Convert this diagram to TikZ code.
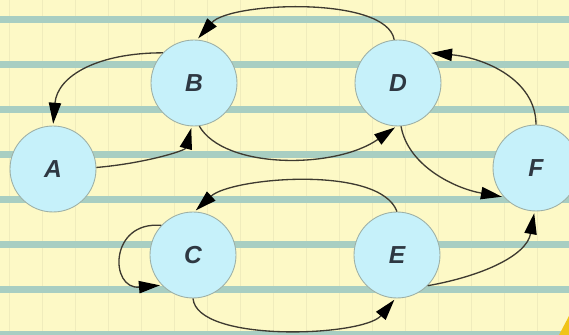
\documentclass[tikz,border=0pt]{standalone}
\usepackage{fontspec}
\setmainfont{Liberation Sans}
\usepackage{tikz}
\usetikzlibrary{arrows.meta}

\definecolor{giay}{HTML}{FDF9C6}
\definecolor{soc}{HTML}{A8CEC2}
\definecolor{ke}{HTML}{F0ECBC}
\definecolor{nen}{HTML}{C6F1FA}
\definecolor{vien}{HTML}{9DB0A6}
\definecolor{chu}{HTML}{2E3842}
\definecolor{net}{HTML}{3E3A30}
\definecolor{gocvang}{HTML}{F0C418}

\begin{document}
\begin{tikzpicture}[x=0.02cm, y=0.02cm, >={Triangle[length=12pt,width=7pt,color=black]},
    dinh/.style={circle, draw=vien, line width=0.5pt, fill=nen, minimum size=1.72cm,
        inner sep=0pt, text=chu, font=\fontsize{14}{16}\selectfont\bfseries\itshape},
    cung/.style={->, draw=net, line width=0.75pt, shorten >=1pt}]
    % Nền giấy kẻ
    \clip (0,0) rectangle (569,335);
    \fill[giay] (0,0) rectangle (569,335);
    \foreach \x in {9,42,...,569}
        \draw[ke, line width=0.4pt] (\x,0) -- (\x,335);
    \foreach \k in {0,...,7}
        \draw[soc, line width=0.14cm] (0,{315-44.9*\k}) -- (569,{315-44.9*\k});
    \fill[gocvang] (559,0) -- (569,0) -- (569,19) -- cycle;
    % Các đỉnh
    \node[dinh] (A) at (53,166) {A};
    \node[dinh] (B) at (194,252) {B};
    \node[dinh] (D) at (398,252) {D};
    \node[dinh] (F) at (536,167) {F};
    \node[dinh] (C) at (193,80) {C};
    \node[dinh] (E) at (397,80) {E};
    % Các cung
    \draw[cung] (D.95) to[out=100, in=49, out distance=0.9cm, in distance=1cm] (B.86);
    \draw[cung] (B.136) to[out=180, in=85, out distance=1.3cm, in distance=1cm] (A.90);
    \draw[cung] (A.2) to[out=5, in=255, out distance=1cm, in distance=0.5cm] (B.267);
    \draw[cung] (B.277) to[out=-60, in=215, out distance=1cm, in distance=1.5cm] (D.268);
    \draw[cung] (F.90) to[out=90, in=-5, out distance=0.9cm, in distance=1.1cm] (D.44);
    \draw[cung] (D.274) to[out=-80, in=170, out distance=0.8cm, in distance=1cm] (F.222);
    \draw[cung] (E.90) to[out=110, in=43, out distance=1cm, in distance=1cm] (C.88);
    \draw[cung] (C.137) to[out=175, in=185, out distance=1.05cm, in distance=1.05cm] (C.224);
    \draw[cung] (C.270) to[out=-85, in=230, out distance=0.9cm, in distance=1cm] (E.268);
    \draw[cung] (E.-45) to[out=10, in=-100, out distance=1.1cm, in distance=0.9cm] (F.268);
\end{tikzpicture}
\end{document}
